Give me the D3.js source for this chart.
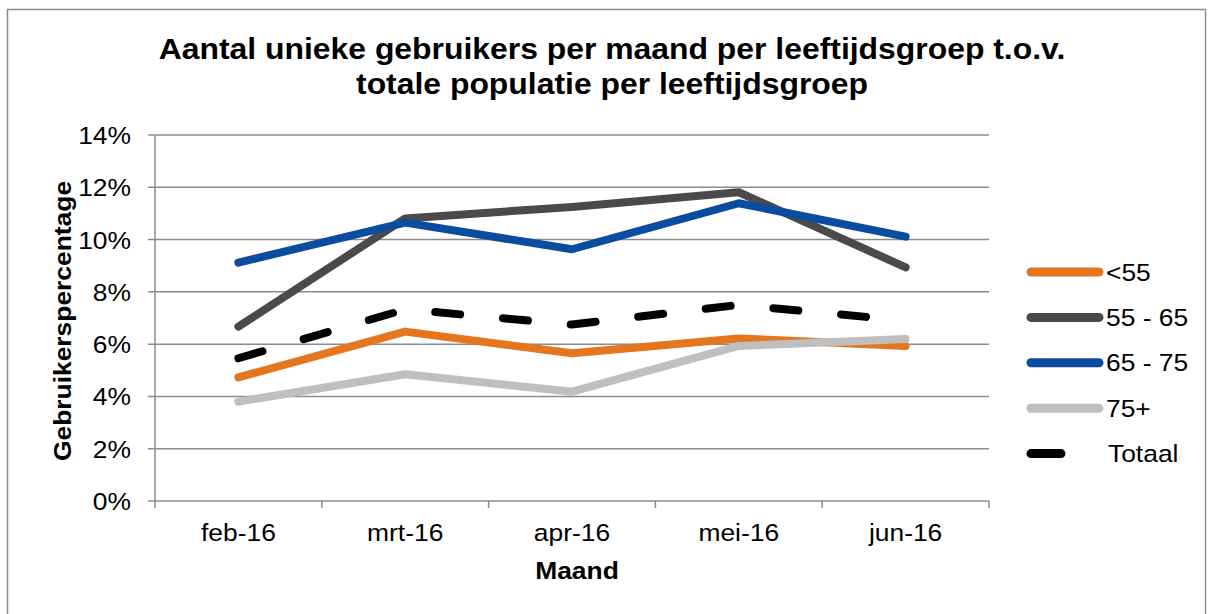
<!DOCTYPE html>
<meta charset="utf-8">
<style>
    body { margin: 0; background: #fff; }
    svg text { font-family: "Liberation Sans", Arial, sans-serif; fill: #000; }
</style>
<script src="https://d3js.org/d3.v7.min.js"></script>
<div id="chart"></div>
<script>
    // months on the x axis
    var months = ["feb-16", "mrt-16", "apr-16", "mei-16", "jun-16"]
    // percentages per age group
    var under55 = [4.73, 6.48, 5.65, 6.22, 5.93]
    var age55to65 = [6.67, 10.81, 11.25, 11.81, 8.94]
    var age65to75 = [9.12, 10.65, 9.63, 11.39, 10.11]
    var age75plus = [3.80, 4.85, 4.18, 5.93, 6.20]
    var totaal = [5.46, 7.33, 6.75, 7.50, 6.90]
    var seriesNames = ["<55", "55 - 65", "65 - 75", "75+", "Totaal"]
    var yTicks = [0, 2, 4, 6, 8, 10, 12, 14]

    var series = [
        { name: seriesNames[0], values: under55, color: "#E4761F", dashed: false },
        { name: seriesNames[1], values: age55to65, color: "#4A4A4A", dashed: false },
        { name: seriesNames[2], values: age65to75, color: "#0B4CA0", dashed: false },
        { name: seriesNames[3], values: age75plus, color: "#BFBFBF", dashed: false },
        { name: seriesNames[4], values: totaal, color: "#000000", dashed: true }
    ]

    var W = 1213, H = 614
    var margin = { top: 135, left: 155, right: 224, bottom: 113 }
    var width = W - margin.left - margin.right,
        height = H - margin.top - margin.bottom
    var stretch = 1.1   // text in the original renders a bit wider than Arial

    function place(px, py, rot) {
        return "translate(" + px + "," + py + ")" + (rot ? " rotate(" + rot + ")" : "") + " scale(" + stretch + ",1)"
    }

    var svg = d3.select("#chart").append("svg")
        .attr("width", W)
        .attr("height", H)

    // outer chart border
    svg.append("rect")
        .attr("x", 7.5).attr("y", 9.5)
        .attr("width", 1198).attr("height", 640)
        .attr("fill", "none")
        .attr("stroke", "#8c8c8c")
        .attr("stroke-width", 1.5)

    // title
    var titleLines = ["Aantal unieke gebruikers per maand per leeftijdsgroep t.o.v.", "totale populatie per leeftijdsgroep"]
    svg.selectAll(".title")
        .data(titleLines)
        .enter()
        .append("text")
        .attr("transform", function (d, i) { return place(612, 59 + i * 35) })
        .attr("text-anchor", "middle")
        .attr("font-size", "29px")
        .attr("font-weight", "bold")
        .text(function (d) { return d })

    var g = svg.append("g")
        .attr("transform", "translate(" + margin.left + "," + margin.top + ")")

    var x = d3.scaleBand().domain(months).range([0, width])
    var y = d3.scaleLinear().domain([0, 14]).range([height, 0])

    // horizontal gridlines
    g.selectAll(".grid")
        .data(yTicks)
        .enter()
        .append("line")
        .attr("x1", -7)
        .attr("x2", width)
        .attr("y1", function (d) { return y(d) })
        .attr("y2", function (d) { return y(d) })
        .attr("stroke", "#8c8c8c")
        .attr("stroke-width", 1.5)

    // y axis line
    g.append("line")
        .attr("x1", 0).attr("x2", 0)
        .attr("y1", 0).attr("y2", height)
        .attr("stroke", "#8c8c8c")
        .attr("stroke-width", 1.5)

    // x ticks at band edges
    var edges = months.map(function (d) { return x(d) }).concat([width])
    g.selectAll(".xtick")
        .data(edges)
        .enter()
        .append("line")
        .attr("x1", function (d) { return d })
        .attr("x2", function (d) { return d })
        .attr("y1", height)
        .attr("y2", height + 7)
        .attr("stroke", "#8c8c8c")
        .attr("stroke-width", 1.5)

    // y tick labels
    g.selectAll(".ylabel")
        .data(yTicks)
        .enter()
        .append("text")
        .attr("transform", function (d) { return place(-24, y(d) + 9) })
        .attr("text-anchor", "end")
        .attr("font-size", "24px")
        .text(function (d) { return d + "%" })

    // x tick labels
    g.selectAll(".xlabel")
        .data(months)
        .enter()
        .append("text")
        .attr("transform", function (d) { return place(x(d) + x.bandwidth() / 2, height + 40) })
        .attr("text-anchor", "middle")
        .attr("font-size", "24px")
        .text(function (d) { return d })

    // axis titles
    g.append("text")
        .attr("transform", place(width / 2 + 5, height + 78))
        .attr("text-anchor", "middle")
        .attr("font-size", "24px")
        .attr("font-weight", "bold")
        .text("Maand")

    g.append("text")
        .attr("transform", place(-84, height / 2 + 3, -90))
        .attr("text-anchor", "middle")
        .attr("font-size", "24px")
        .attr("font-weight", "bold")
        .text("Gebruikerspercentage")

    // lines
    var line = d3.line()
        .x(function (d, i) { return x(months[i]) + x.bandwidth() / 2 })
        .y(function (d) { return y(d) })

    g.selectAll(".series")
        .data(series)
        .enter()
        .append("path")
        .attr("d", function (d) { return line(d.values) })
        .attr("fill", "none")
        .attr("stroke", function (d) { return d.color })
        .attr("stroke-width", 8)
        .attr("stroke-linecap", "round")
        .attr("stroke-linejoin", "round")
        .attr("stroke-dasharray", function (d) { return d.dashed ? "25,43" : null })

    // legend
    var legend = svg.append("g")
        .attr("transform", "translate(1031,272)")
    var rows = legend.selectAll(".row")
        .data(series)
        .enter()
        .append("g")
        .attr("transform", function (d, i) { return "translate(0," + (i * 45.4) + ")" })
    rows.append("line")
        .attr("x1", 0)
        .attr("x2", function (d) { return d.dashed ? 30 : 68 })
        .attr("y1", 0).attr("y2", 0)
        .attr("stroke", function (d) { return d.color })
        .attr("stroke-width", 9)
        .attr("stroke-linecap", "round")
    rows.append("text")
        .attr("transform", function (d) { return place(d.dashed ? 77 : 75, 8.5) })
        .attr("font-size", "24px")
        .text(function (d) { return d.name })
</script>
